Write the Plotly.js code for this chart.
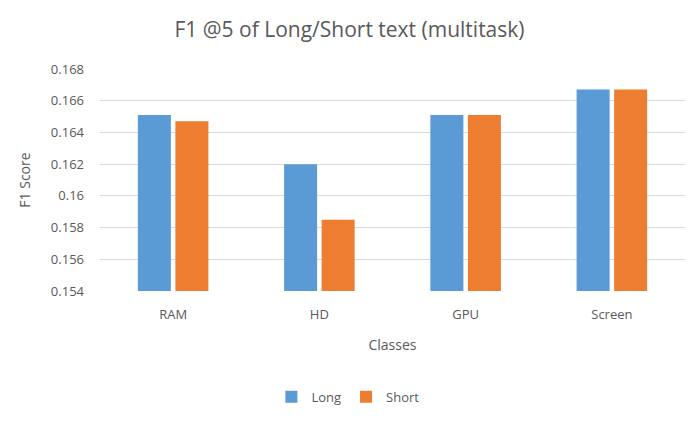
<!DOCTYPE html>
<html>
<head>
<meta charset="utf-8">
<script src="https://cdn.plot.ly/plotly-3.0.1.min.js"></script>
<style>html,body{margin:0;padding:0;background:#fff;}#chart{width:699px;height:423px;}</style>
</head>
<body>
<div id="chart"></div>
<script>
const categories = ["RAM", "HD", "GPU", "Screen"];
const longValues = [0.1651, 0.1620, 0.1651, 0.1667];
const shortValues = [0.1647, 0.1585, 0.1651, 0.1667];
const tickValues = [0.154, 0.156, 0.158, 0.160, 0.162, 0.164, 0.166, 0.168];
const tickLabels = ["0.154", "0.156", "0.158", "0.16", "0.162", "0.164", "0.166", "0.168"];

const fontFam = "Open Sans, Noto Sans, sans-serif";
const data = [
  {type: "bar", name: "Long", x: categories, y: longValues, marker: {color: "#5b9bd5"}, hoverinfo: "y"},
  {type: "bar", name: "Short", x: categories, y: shortValues, marker: {color: "#ed7d31"}, hoverinfo: "y"}
];
const layout = {
  width: 699, height: 423,
  margin: {l: 100, r: 14, t: 69, b: 131},
  paper_bgcolor: "#fff", plot_bgcolor: "#fff",
  font: {family: fontFam, color: "#595959", size: 13},
  title: {text: "F1 @5 of Long/Short text (multitask)", font: {family: fontFam, size: 21, color: "#595959"}, x: 0.5, xanchor: "center", y: 0.93, yanchor: "middle"},
  barmode: "group",
  bargap: 0.487,
  bargroupgap: 0.12,
  xaxis: {
    title: {text: "Classes", font: {size: 14, color: "#595959"}, standoff: 18},
    showgrid: false, showline: false, ticks: "", zeroline: false,
    ticklabelstandoff: 14,
    tickfont: {size: 13, color: "#595959"}
  },
  yaxis: {
    title: {text: "F1 Score", font: {size: 14, color: "#595959"}, standoff: 16},
    range: [0.154, 0.168], tickmode: "array", tickvals: tickValues, ticktext: tickLabels,
    gridcolor: "#d9d9d9", gridwidth: 1, zeroline: false, showline: false, ticks: "",
    ticklabelstandoff: 15,
    tickfont: {size: 13, color: "#595959"}
  },
  legend: {orientation: "h", x: 0.293, xanchor: "left", y: -0.47, yanchor: "middle", itemwidth: 30, font: {size: 13, color: "#595959"}},
  showlegend: true
};
Plotly.newPlot("chart", data, layout, {displayModeBar: false, staticPlot: true});
</script>
</body>
</html>
